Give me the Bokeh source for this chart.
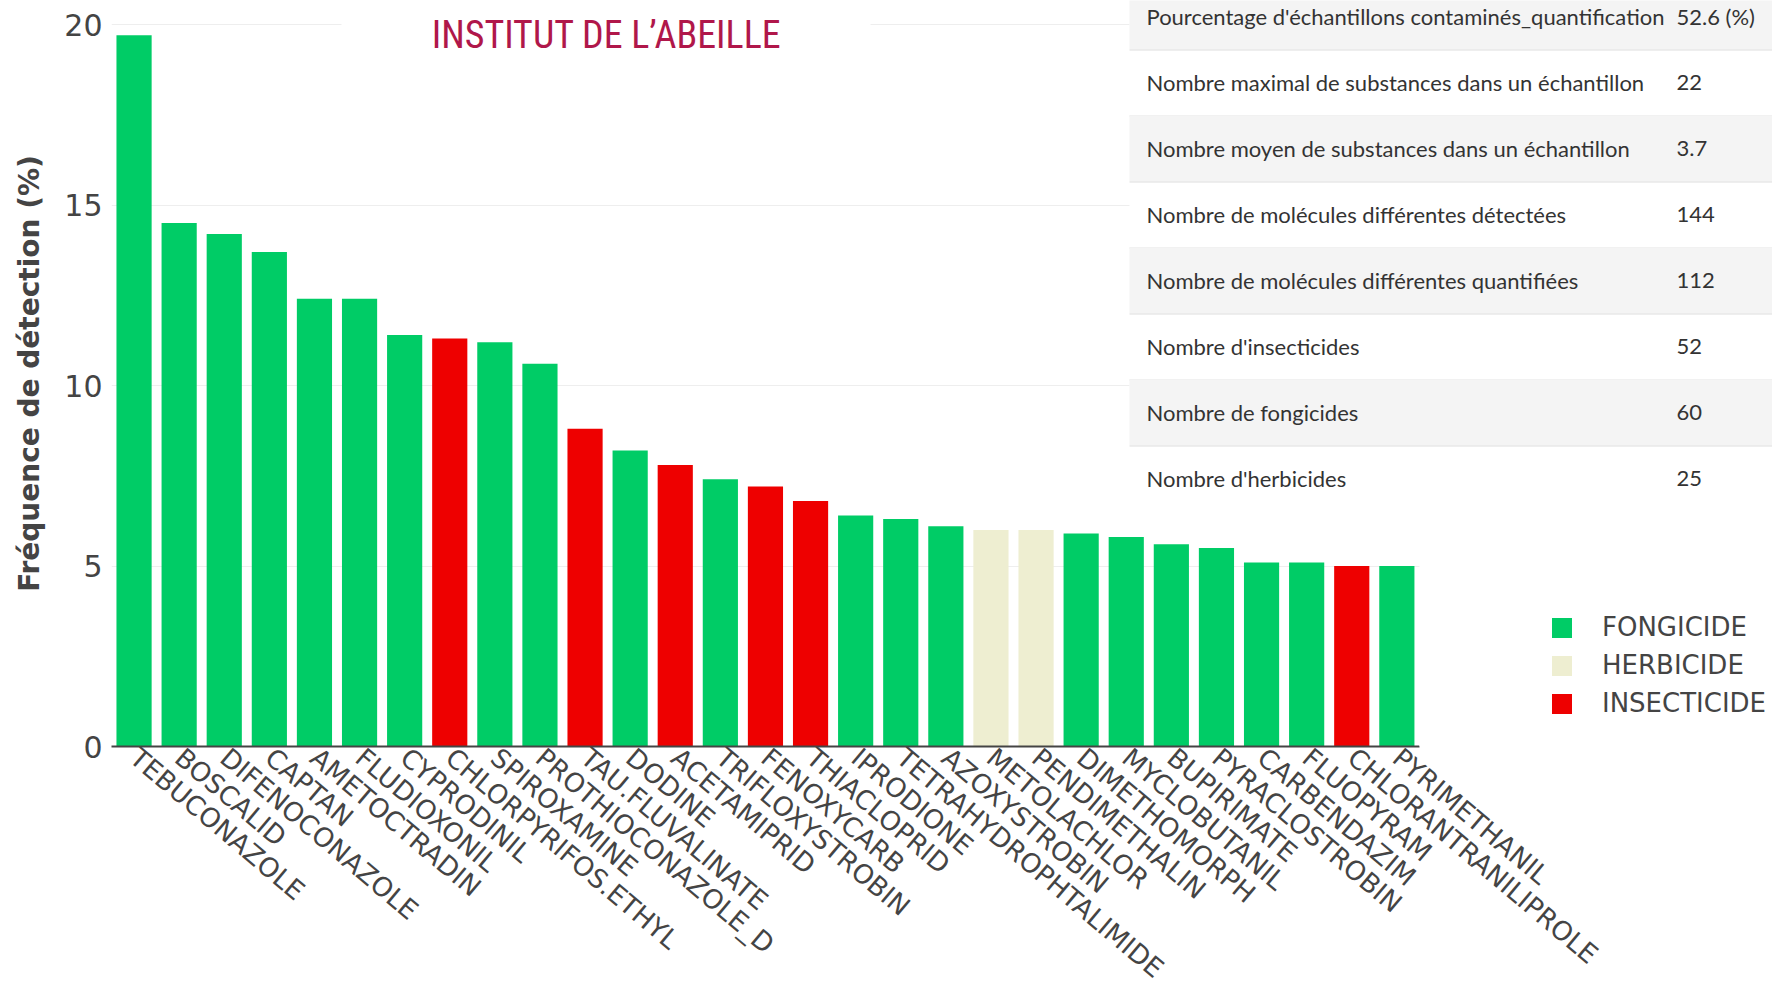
from bokeh.plotting import figure
from bokeh.models import (ColumnDataSource, Range1d, Legend, LegendItem,
                          BoxAnnotation, Label, FixedTicker)
from bokeh.embed import file_html
from bokeh.resources import INLINE

# ---------------- data ----------------
molecules = ["TEBUCONAZOLE", "BOSCALID", "DIFENOCONAZOLE", "CAPTAN", "AMETOCTRADIN",
             "FLUDIOXONIL", "CYPRODINIL", "CHLORPYRIFOS.ETHYL", "SPIROXAMINE",
             "PROTHIOCONAZOLE_D", "TAU.FLUVALINATE", "DODINE", "ACETAMIPRID",
             "TRIFLOXYSTROBIN", "FENOXYCARB", "THIACLOPRID", "IPRODIONE",
             "TETRAHYDROPHTALIMIDE", "AZOXYSTROBIN", "METOLACHLOR", "PENDIMETHALIN",
             "DIMETHOMORPH", "MYCLOBUTANIL", "BUPIRIMATE", "PYRACLOSTROBIN",
             "CARBENDAZIM", "FLUOPYRAM", "CHLORANTRANILIPROLE", "PYRIMETHANIL"]
frequencies = [19.7, 14.5, 14.2, 13.7, 12.4,
               12.4, 11.4, 11.3, 11.2,
               10.6, 8.8, 8.2, 7.8,
               7.4, 7.2, 6.8, 6.4,
               6.3, 6.1, 6.0, 6.0,
               5.9, 5.8, 5.6, 5.5,
               5.1, 5.1, 5.0, 5.0]
types = ["FONGICIDE", "FONGICIDE", "FONGICIDE", "FONGICIDE", "FONGICIDE",
         "FONGICIDE", "FONGICIDE", "INSECTICIDE", "FONGICIDE",
         "FONGICIDE", "INSECTICIDE", "FONGICIDE", "INSECTICIDE",
         "FONGICIDE", "INSECTICIDE", "INSECTICIDE", "FONGICIDE",
         "FONGICIDE", "FONGICIDE", "HERBICIDE", "HERBICIDE",
         "FONGICIDE", "FONGICIDE", "FONGICIDE", "FONGICIDE",
         "FONGICIDE", "FONGICIDE", "INSECTICIDE", "FONGICIDE"]
type_order = ["FONGICIDE", "HERBICIDE", "INSECTICIDE"]
y_ticks = [0, 5, 10, 15, 20]

stat_labels = ["Pourcentage d'échantillons contaminés_quantification",
               "Nombre maximal de substances dans un échantillon",
               "Nombre moyen de substances dans un échantillon",
               "Nombre de molécules différentes détectées",
               "Nombre de molécules différentes quantifiées",
               "Nombre d'insecticides",
               "Nombre de fongicides",
               "Nombre d'herbicides"]
stat_values = ["52.6 (%)", "22", "3.7", "144", "112", "52", "60", "25"]

# ---------------- styles / layout ----------------
type_colors = {"FONGICIDE": "#00CC66", "HERBICIDE": "#EEEED1", "INSECTICIDE": "#EE0000"}
TXT = "#444444"

W, H = 1772, 1003
BORDER_L = 111
FRAME_BOTTOM_PAGE = 746
BORDER_B = H - FRAME_BOTTOM_PAGE
FRAME_W = W - BORDER_L
PITCH = 45.1                      # pixels per category
PX_PER_UNIT = 36.1                # pixels per percent
positions = list(range(len(molecules)))

p = figure(width=W, height=H,
           x_range=Range1d(-0.5, -0.5 + FRAME_W / PITCH),
           y_range=Range1d(0, FRAME_BOTTOM_PAGE / PX_PER_UNIT),
           output_backend="svg", toolbar_location=None,
           min_border_left=BORDER_L, min_border_right=0,
           min_border_top=0, min_border_bottom=BORDER_B)
p.outline_line_color = None
p.background_fill_color = "white"
p.border_fill_color = "white"

items = []
for t in type_order:
    xs = [x for x, tt in zip(positions, types) if tt == t]
    ys = [f for f, tt in zip(frequencies, types) if tt == t]
    src = ColumnDataSource(dict(x=xs, top=ys))
    r = p.vbar(x="x", top="top", bottom=0, width=0.78, source=src,
               fill_color=type_colors[t], line_color=None)
    items.append(LegendItem(label=t, renderers=[r]))

# grid
p.xgrid.grid_line_color = None
p.ygrid.grid_line_color = "#eeeeee"
p.ygrid.grid_line_width = 1

# y axis
p.yaxis.ticker = FixedTicker(ticks=y_ticks)
p.yaxis.axis_line_color = None
p.yaxis.major_tick_line_color = None
p.yaxis.minor_tick_line_color = None
p.yaxis.major_tick_out = 0
p.yaxis.major_tick_in = 0
p.yaxis.major_label_text_font = "DejaVu Sans"
p.yaxis.major_label_text_font_size = "30px"
p.yaxis.major_label_text_color = TXT
p.yaxis.major_label_standoff = 9
p.yaxis.axis_label = "Fréquence de détection (%)"
p.yaxis.axis_label_text_font = "DejaVu Sans"
p.yaxis.axis_label_text_font_style = "bold"
p.yaxis.axis_label_text_font_size = "28px"
p.yaxis.axis_label_text_color = TXT
p.yaxis.axis_label_standoff = 15

# x axis (categories as tick labels)
p.xaxis.ticker = FixedTicker(ticks=positions)
p.xaxis.major_label_overrides = {x: m for x, m in zip(positions, molecules)}
p.xaxis.bounds = (-0.5, len(molecules) - 0.5)
p.xaxis.axis_line_color = TXT
p.xaxis.axis_line_width = 2
p.xaxis.major_tick_line_color = None
p.xaxis.minor_tick_line_color = None
p.xaxis.major_tick_out = 0
p.xaxis.major_tick_in = 0
p.xaxis.major_label_orientation = -0.70
p.xaxis.major_label_text_font = "DejaVu Sans"
p.xaxis.major_label_text_font_size = "26.5px"
p.xaxis.major_label_text_color = TXT
p.xaxis.major_label_standoff = 7

# ---------------- overlays (screen units, relative to frame) ----------------
FRAME_LEFT_PAGE = BORDER_L


def sx(xp):
    return xp - FRAME_LEFT_PAGE


def sy(yp):
    return FRAME_BOTTOM_PAGE - yp


def box(l, r, t, b, color):
    p.add_layout(BoxAnnotation(left=sx(l), right=sx(r), bottom=sy(b), top=sy(t),
                               left_units="screen", right_units="screen",
                               bottom_units="screen", top_units="screen",
                               fill_color=color, fill_alpha=1, line_color=None))


# blank area right of the last category (hides grid lines there)
p.add_layout(BoxAnnotation(left=len(molecules) - 0.5, fill_color="white", fill_alpha=1,
                           line_color=None))

# white block behind the logo (hides the grid line)
box(341, 870, -5, 62, "white")
p.add_layout(Label(x=sx(606), y=sy(34), x_units="screen", y_units="screen",
                   text="INSTITUT DE L\u2019ABEILLE", text_align="center",
                   text_baseline="middle",
                   text_font="Liberation Sans Narrow, Roboto Condensed, Roboto",
                   text_font_size="38px", text_color="#B0174A"))

# statistics table
TABLE_L, TABLE_R = 1129, 1790
ROW_H = 66
FIRST_BOUND = 49
box(TABLE_L, TABLE_R, -5, FIRST_BOUND + ROW_H * 7, "white")
for i, (lab, val) in enumerate(zip(stat_labels, stat_values)):
    bottom = FIRST_BOUND + ROW_H * i
    top = bottom - ROW_H
    if i % 2 == 0:
        box(TABLE_L, TABLE_R, max(top, -5), bottom, "#f4f4f4")
    if i < 7:
        box(TABLE_L, TABLE_R, bottom, bottom + 1, "#dddddd")
    cy = top + ROW_H / 2
    p.add_layout(Label(x=sx(1146), y=sy(cy), x_units="screen", y_units="screen",
                       text=lab, text_baseline="middle", text_font="Lato",
                       text_font_size="22px", text_color="#333333"))
    p.add_layout(Label(x=sx(1676), y=sy(cy), x_units="screen", y_units="screen",
                       text=val, text_baseline="middle", text_font="Lato",
                       text_font_size="22px", text_color="#333333"))

# legend (inside the frame, right of the bars)
legend = Legend(items=items, location=(1549 - FRAME_LEFT_PAGE, 24), orientation="vertical",
                glyph_width=25, glyph_height=25, label_standoff=28,
                spacing=0, label_height=38, padding=0, margin=0,
                border_line_color=None, background_fill_alpha=0,
                label_text_font="DejaVu Sans", label_text_font_size="26px",
                label_text_color=TXT)
p.add_layout(legend, "center")

open("out.html", "w").write(file_html(p, INLINE))
